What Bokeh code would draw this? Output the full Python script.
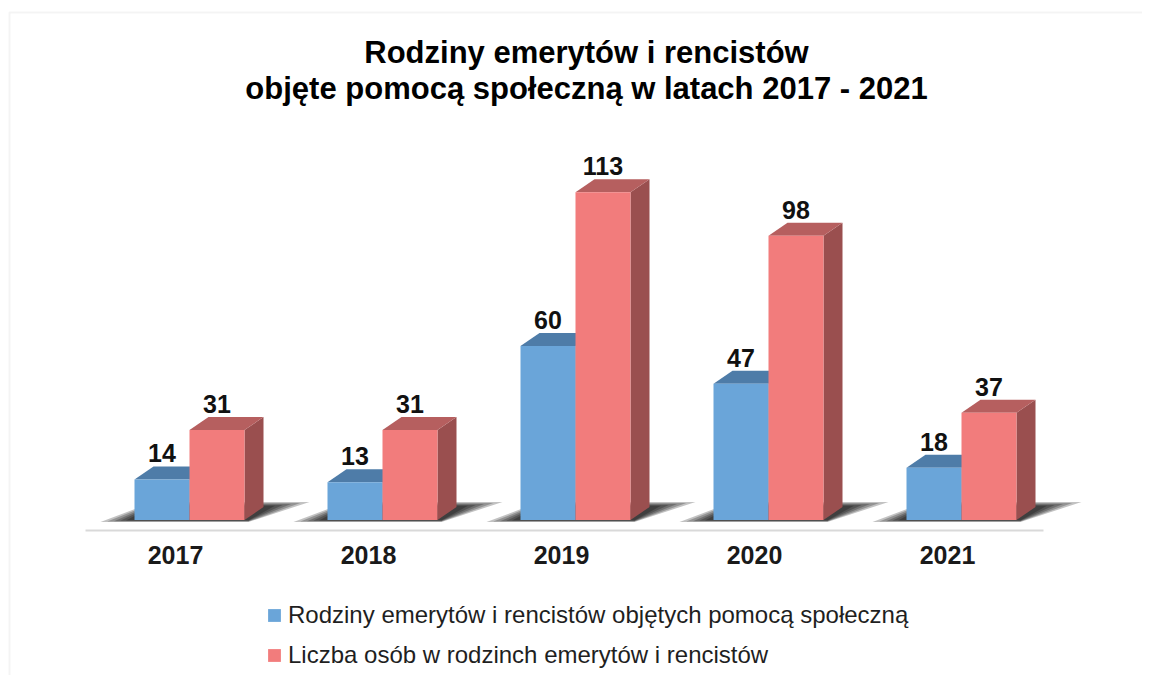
import numpy as np
from bokeh.plotting import figure
from bokeh.models import (Range1d, FixedTicker, Legend, LegendItem, Label,
                          BoxAnnotation, ColumnDataSource)
from bokeh.embed import file_html
from bokeh.resources import INLINE
from bokeh.core.properties import value

# ---------------- data ----------------
years = ["2017", "2018", "2019", "2020", "2021"]
families = [14, 13, 60, 47, 18]
persons = [31, 31, 113, 98, 37]
series_names = ["Rodziny emerytów i rencistów objętych pomocą społeczną",
                "Liczba osób w rodzinch emerytów i rencistów"]
title_lines = ["Rodziny emerytów i rencistów",
               "objęte pomocą społeczną w latach 2017 - 2021"]

# ---------------- layout constants (pixels of the page) ----------------
W, H = 1142, 675          # canvas = frame
PAGE_OFF = 0
PX_X = 193.0              # px per category
PX_Y = 2.9                # px per unit value
X0_PAGE = 175.0           # page x of first category centre
BASE_PAGE = 519.5         # page y of value 0

def dx(px):
    return px / PX_X

def dy(px):
    return px / PX_Y

def xd(page_x):
    return (page_x - X0_PAGE) / PX_X

def yd(page_y):
    return (BASE_PAGE - page_y) / PX_Y

BAR_W = dx(55)
JOIN = dx(14)
DEPTH_X = dx(19)
DEPTH_Y = dy(13)
LABEL_GAP = dy(13)        # from top-back edge to middle of the label text

FONT = "Liberation Sans"
BLUE, BLUE_TOP, BLUE_SIDE = "#6aa5d9", "#4e7ca8", "#44698e"
RED, RED_TOP, RED_SIDE = "#f27c7c", "#b65f5f", "#9a4f4f"

p = figure(width=W, height=H, output_backend="svg", toolbar_location=None,
           x_range=Range1d(xd(PAGE_OFF), xd(PAGE_OFF + W)),
           y_range=Range1d(yd(PAGE_OFF + H), yd(PAGE_OFF)),
           y_axis_location=None, min_border=0,
           min_border_left=0, min_border_right=0, min_border_top=0, min_border_bottom=0)
p.outline_line_color = None
p.xgrid.visible = False
p.ygrid.visible = False
p.background_fill_color = "white"
p.border_fill_color = "white"

n = len(years)
idx = np.arange(n, dtype=float)
blue_l = idx + JOIN - BAR_W
blue_r = idx + JOIN
red_l = blue_r
red_r = blue_r + BAR_W

# ---------------- floor shadows ----------------
for s in [1.0, 0.8, 0.6, 0.42, 0.25]:
    xs, ys = [], []
    for i in range(n):
        xs.append([blue_l[i] - dx(34) * s, red_r[i] + dx(4),
                   red_r[i] + DEPTH_X + dx(46) * s, blue_l[i] + DEPTH_X])
        ys.append([dy(-2) * s, dy(-2) * s, DEPTH_Y + dy(5) * s, DEPTH_Y + dy(5) * s])
    p.patches(xs, ys, fill_color="black", fill_alpha=0.24, line_color=None)

# ---------------- 3D bars ----------------
def faces(left, right, vals):
    top_xs, top_ys, side_xs, side_ys = [], [], [], []
    for l, r, v in zip(left, right, vals):
        top_xs.append([l, r, r + DEPTH_X, l + DEPTH_X])
        top_ys.append([v, v, v + DEPTH_Y, v + DEPTH_Y])
        side_xs.append([r, r + DEPTH_X, r + DEPTH_X, r])
        side_ys.append([0, DEPTH_Y, v + DEPTH_Y, v])
    return top_xs, top_ys, side_xs, side_ys

bt_x, bt_y, bs_x, bs_y = faces(blue_l, blue_r, families)
p.patches(bs_x, bs_y, fill_color=BLUE_SIDE, line_color=None)
p.patches(bt_x, bt_y, fill_color=BLUE_TOP, line_color=None)
blue_front = p.vbar(x=(blue_l + blue_r) / 2, top=families, bottom=0, width=BAR_W,
                    fill_color=BLUE, line_color=None)

rt_x, rt_y, rs_x, rs_y = faces(red_l, red_r, persons)
p.patches(rs_x, rs_y, fill_color=RED_SIDE, line_color=None)
p.patches(rt_x, rt_y, fill_color=RED_TOP, line_color=None)
red_front = p.vbar(x=(red_l + red_r) / 2, top=persons, bottom=0, width=BAR_W,
                   fill_color=RED, line_color=None)

# ---------------- value labels ----------------
lab_src = ColumnDataSource(dict(
    x=list((blue_l + blue_r) / 2) + list((red_l + red_r) / 2),
    y=[v + DEPTH_Y + LABEL_GAP for v in families] + [v + DEPTH_Y + LABEL_GAP for v in persons],
    t=[str(v) for v in families] + [str(v) for v in persons]))
p.text(x="x", y="y", text="t", source=lab_src,
       text_align="center", text_baseline="middle",
       text_font=value(FONT), text_font_style="bold", text_font_size="25px",
       text_color="#111111")

# ---------------- axis ----------------
ax = p.xaxis[0]
ax.fixed_location = yd(530)
ax.ticker = FixedTicker(ticks=list(range(n)))
ax.major_label_overrides = {i: y for i, y in enumerate(years)}
ax.bounds = (xd(85), xd(1043))
ax.axis_line_color = "#d9d9d9"
ax.axis_line_width = 2
ax.major_tick_line_color = None
ax.minor_tick_line_color = None
ax.major_tick_out = 0
ax.major_tick_in = 0
ax.major_label_standoff = 15
ax.major_label_text_font = FONT
ax.major_label_text_font_style = "bold"
ax.major_label_text_font_size = "25px"
ax.major_label_text_color = "#1a1a1a"

# ---------------- title ----------------
for txt, mid in zip(title_lines, [52, 88]):
    p.add_layout(Label(x=xd(586), y=yd(mid), text=txt, text_align="center",
                       text_baseline="middle", text_font=FONT,
                       text_font_style="bold", text_font_size="31px",
                       text_color="#000000"))

# ---------------- chart border ----------------
p.add_layout(BoxAnnotation(left=xd(9), right=xd(2000), top=yd(12), bottom=yd(2000),
                           fill_alpha=0, line_color="#d9d9d9", line_width=2))

# ---------------- legend ----------------
legend = Legend(items=[LegendItem(label=series_names[0], renderers=[blue_front]),
                       LegendItem(label=series_names[1], renderers=[red_front])],
                location=(266, 6), orientation="vertical",
                padding=0, margin=0, spacing=12,
                glyph_width=16, glyph_height=16, label_height=28, label_standoff=6,
                label_text_font=FONT, label_text_font_size="24px",
                label_text_color="#1f1f1f",
                background_fill_alpha=0, border_line_color=None)
p.add_layout(legend)

open("out.html", "w").write(file_html(p, INLINE))
